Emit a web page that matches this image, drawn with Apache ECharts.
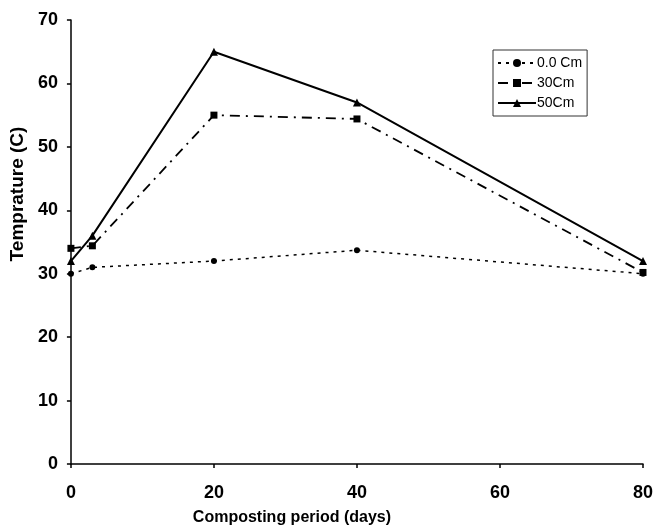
<!DOCTYPE html>
<html>
<head>
<meta charset="utf-8">
<script src="https://cdn.jsdelivr.net/npm/echarts@6/dist/echarts.min.js"></script>
<style>html,body{margin:0;padding:0;background:#fff}#c{width:656px;height:531px}</style>
</head>
<body>
<div id="c"></div>
<script>
var seriesNames = ['0.0 Cm', '30Cm', '50Cm'];
var days = [0, 3, 20, 40, 80];
var temp00 = [30, 31, 32, 33.7, 30];
var temp30 = [34, 34.4, 55, 54.4, 30.2];
var temp50 = [32, 36, 65, 57, 32];
var xTicks = [0, 20, 40, 60, 80];
var yTicks = [0, 10, 20, 30, 40, 50, 60, 70];

var FONT = '"Liberation Sans Narrow", "Liberation Sans", Arial, sans-serif';
function pairs(v) { return days.map(function (d, i) { return [d, v[i]]; }); }

var chart = echarts.init(document.getElementById('c'));
chart.setOption({
  backgroundColor: '#fff',
  animation: false,
  grid: { left: 65, right: 7, top: 20, bottom: 63, containLabel: false },
  legend: {
    orient: 'vertical',
    left: 493, top: 50,
    itemWidth: 38, itemHeight: 10, itemGap: 6,
    padding: [6, 5, 6, 4],
    borderColor: '#333', borderWidth: 1,
    textStyle: { fontFamily: FONT, fontSize: 14, color: '#000', padding: [0, 0, 0, -4] },
    data: seriesNames
  },
  xAxis: {
    type: 'value', min: xTicks[0], max: xTicks[xTicks.length - 1], interval: 20,
    name: 'Composting period (days)', nameLocation: 'middle', nameGap: 46,
    nameTextStyle: { fontFamily: FONT, fontSize: 16, fontWeight: 'bold', color: '#000', padding: [0, 130, 0, 0] },
    axisLine: { lineStyle: { color: '#000', width: 1.5 } },
    axisTick: { show: true, inside: false, length: 4, lineStyle: { color: '#000', width: 1.5 } },
    axisLabel: { margin: 20, fontFamily: FONT, fontSize: 18, fontWeight: 'bold', color: '#000' },
    splitLine: { show: false }
  },
  yAxis: {
    type: 'value', min: yTicks[0], max: yTicks[yTicks.length - 1], interval: 10,
    name: 'Temprature (C)', nameLocation: 'middle', nameGap: 36,
    nameTextStyle: { fontFamily: FONT, fontSize: 19, fontWeight: 'bold', color: '#000', padding: [0, 0, 0, 96] },
    axisLine: { show: true, lineStyle: { color: '#000', width: 1.5 } },
    axisTick: { show: true, inside: false, length: 4, lineStyle: { color: '#000', width: 1.5 } },
    axisLabel: { margin: 13, fontFamily: FONT, fontSize: 18, fontWeight: 'bold', color: '#000' },
    splitLine: { show: false }
  },
  series: [
    {
      name: seriesNames[0], type: 'line', data: pairs(temp00),
      symbol: 'circle', symbolSize: 6, showAllSymbol: true,
      itemStyle: { color: '#000' },
      lineStyle: { color: '#000', width: 1.5, type: [3, 5] }
    },
    {
      name: seriesNames[1], type: 'line', data: pairs(temp30),
      symbol: 'rect', symbolSize: 7,
      itemStyle: { color: '#000' },
      lineStyle: { color: '#000', width: 1.8, type: [10, 6, 2, 6] }
    },
    {
      name: seriesNames[2], type: 'line', data: pairs(temp50),
      symbol: 'triangle', symbolSize: 8,
      itemStyle: { color: '#000' },
      lineStyle: { color: '#000', width: 2, type: 'solid' }
    }
  ]
});
</script>
</body>
</html>
